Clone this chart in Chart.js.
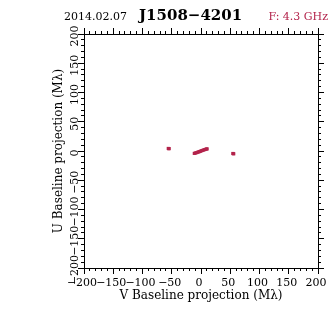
<!DOCTYPE html>
<html>
<head>
<meta charset="utf-8">
<title>J1508-4201 uv coverage</title>
<script src="https://cdn.jsdelivr.net/npm/chart.js@4/dist/chart.umd.min.js"></script>
<style>
  html, body { margin: 0; padding: 0; background: #fff; }
  canvas { display: block; }
</style>
</head>
<body>
<canvas id="uvChart" width="336" height="336"></canvas>
<script>
// uv samples (Mλ): V goes on the horizontal axis, U on the vertical one
const vPoints = [-56, -55, -54.5, 54.5, 55, 56,
    -11.5, -10, -8.5, -7, -5.5, -4, -2.5, -1, 0.5, 2, 3.5, 5, 6.5, 8, 9.5, 10.5];
const uPoints = [4.4, 3.8, 4.2, -4.2, -4.6, -4.8,
    -4.1, -3.6, -3.1, -2.6, -2.0, -1.5, -1.0, -0.4, 0.3, 0.8, 1.4, 1.9, 2.5, 3.0, 3.4, 3.6];

// axis range and tick spacing
const axisMin = -200;
const axisMax = 200;
const labelStep = 50;
const minorStep = 10;

// header texts
const obsDate = "2014.02.07";
const sourceName = "J1508−4201";
const freqText = "F: 4.3 GHz";

const crimson = "#b3234b";
const serif = '"DejaVu Serif", "Liberation Serif", serif';

function fmtTick(v) {
    if (v % labelStep !== 0) return "";
    return v < 0 ? "−" + Math.abs(v) : String(v);
}

function alignPx(p) {
    return Math.round(p - 0.5) + 0.5;
}

// longer major ticks, rotated U labels and the header line
const uvFrame = {
    id: "uvFrame",
    afterDraw(chart) {
        const ctx = chart.ctx;
        ctx.save();
        ctx.strokeStyle = "#000";
        ctx.lineWidth = 1;
        ["x", "x2", "y", "y2"].forEach((id) => {
            const s = chart.scales[id];
            s.ticks.forEach((t) => {
                if (t.value % labelStep !== 0) return;
                const p = alignPx(s.getPixelForValue(t.value));
                ctx.beginPath();
                if (id === "x") {
                    ctx.moveTo(p, s.top + 3);
                    ctx.lineTo(p, s.top + 6);
                } else if (id === "x2") {
                    ctx.moveTo(p, s.bottom - 3);
                    ctx.lineTo(p, s.bottom - 6);
                } else if (id === "y") {
                    ctx.moveTo(s.right - 3, p);
                    ctx.lineTo(s.right - 6, p);
                } else {
                    ctx.moveTo(s.left + 3, p);
                    ctx.lineTo(s.left + 6, p);
                }
                ctx.stroke();
            });
        });

        const yScale = chart.scales.y;
        ctx.font = "11px " + serif;
        ctx.fillStyle = "#000";
        ctx.textAlign = "center";
        ctx.textBaseline = "middle";
        yScale.ticks.forEach((t) => {
            if (t.value % labelStep !== 0) return;
            ctx.save();
            ctx.translate(75, yScale.getPixelForValue(t.value) + 2);
            ctx.rotate(-Math.PI / 2);
            ctx.fillText(fmtTick(t.value), 0, 0);
            ctx.restore();
        });

        ctx.textBaseline = "alphabetic";
        ctx.textAlign = "left";
        ctx.font = "11px " + serif;
        ctx.fillText(obsDate, 64, 20);
        ctx.font = "bold 15px " + serif;
        ctx.fillText(sourceName, 139, 20);
        ctx.textAlign = "right";
        ctx.font = "11px " + serif;
        ctx.fillStyle = crimson;
        ctx.fillText(freqText, 328, 20);
        ctx.restore();
    },
};

const frameGrid = {
    drawOnChartArea: false,
    drawTicks: true,
    tickLength: 3,
    color: "#000",
    tickColor: "#000",
};
const frameBorder = { display: true, color: "#000", width: 1 };

new Chart(document.getElementById("uvChart").getContext("2d"), {
    type: "scatter",
    data: {
        datasets: [
            {
                data: vPoints.map((v, i) => ({ x: v, y: uPoints[i] })),
                backgroundColor: crimson,
                borderColor: crimson,
                borderWidth: 0,
                pointStyle: "rect",
                pointRadius: 2.2,
            },
        ],
    },
    options: {
        responsive: false,
        animation: false,
        devicePixelRatio: 1,
        layout: { padding: 0 },
        plugins: {
            legend: { display: false },
            tooltip: { enabled: false },
        },
        scales: {
            x: {
                type: "linear",
                position: "bottom",
                min: axisMin,
                max: axisMax,
                grid: frameGrid,
                border: frameBorder,
                ticks: {
                    stepSize: minorStep,
                    autoSkip: false,
                    maxRotation: 0,
                    padding: 6,
                    labelOffset: -2,
                    color: "#000",
                    font: { family: serif, size: 11 },
                    callback: (v) => fmtTick(v),
                },
                title: {
                    display: true,
                    text: "V Baseline projection (Mλ)",
                    color: "#000",
                    font: { family: serif, size: 12 },
                    padding: { top: 0, bottom: 33 },
                },
                afterFit: (s) => { s.height = 68; },
            },
            x2: {
                type: "linear",
                position: "top",
                min: axisMin,
                max: axisMax,
                grid: frameGrid,
                border: frameBorder,
                ticks: { display: false, stepSize: minorStep, autoSkip: false },
                afterFit: (s) => { s.height = 34; },
            },
            y: {
                type: "linear",
                position: "left",
                min: axisMin,
                max: axisMax,
                grid: frameGrid,
                border: frameBorder,
                ticks: { display: false, stepSize: minorStep, autoSkip: false },
                title: {
                    display: true,
                    text: "U Baseline projection (Mλ)",
                    color: "#000",
                    font: { family: serif, size: 12 },
                    padding: { top: 52, bottom: 0 },
                },
                afterFit: (s) => { s.width = 84; },
            },
            y2: {
                type: "linear",
                position: "right",
                min: axisMin,
                max: axisMax,
                grid: frameGrid,
                border: frameBorder,
                ticks: { display: false, stepSize: minorStep, autoSkip: false },
                afterFit: (s) => { s.width = 18; },
            },
        },
    },
    plugins: [uvFrame],
});
</script>
</body>
</html>
